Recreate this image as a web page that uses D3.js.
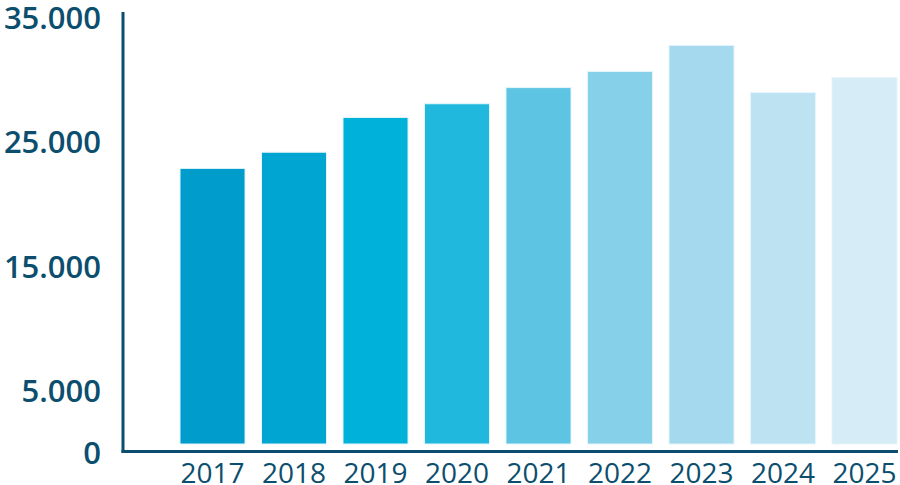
<!DOCTYPE html>
<meta charset="utf-8">
<html>
<head>
<script src="https://d3js.org/d3.v7.min.js"></script>
<style>
  body { margin: 0; background: #fff; }
  text { font-family: "Open Sans", "Noto Sans", sans-serif; fill: #0c4e6e; }
</style>
</head>
<body>
<svg id="chart" width="900" height="485"></svg>
</body>
</html>
<script>

// data
var years = ["2017", "2018", "2019", "2020", "2021", "2022", "2023", "2024", "2025"];
var values = [22900, 24200, 27000, 28100, 29400, 30700, 32800, 29000, 30200];
var barColors = ["#009ccb", "#00a5d1", "#00b1d9", "#20b9dd", "#5ec4e3", "#86d0e9", "#a4d9ee", "#bde3f2", "#d6edf7"];
var yTicks = [0, 5000, 15000, 25000, 35000];

var svg = d3.select("#chart"),
  width = +svg.attr("width"),
  height = +svg.attr("height");

var axisColor = "#0c4e6e";

// scales
var x = d3.scaleBand()
  .domain(years)
  .range([180, 897])
  .paddingInner(0.202)
  .paddingOuter(0);

var y = d3.scaleLinear()
  .domain([0, 35000])
  .range([453, 18]);

var baseGap = 9; // bars stop a little above the axis line

// bars
svg.append("g")
  .selectAll("rect")
  .data(years)
  .enter()
  .append("rect")
    .attr("x", function(d) { return x(d); })
    .attr("width", x.bandwidth())
    .attr("y", function(d, i) { return y(values[i]); })
    .attr("height", function(d, i) { return y(0) - baseGap - y(values[i]); })
    .attr("fill", function(d, i) { return barColors[i]; })
    .attr("stroke", "#e6f5fb")
    .attr("stroke-width", 1);

// y axis line
svg.append("line")
  .attr("x1", 123).attr("x2", 123)
  .attr("y1", 12).attr("y2", 453)
  .attr("stroke", axisColor)
  .attr("stroke-width", 3);

// x axis line
svg.append("line")
  .attr("x1", 121.5).attr("x2", 898)
  .attr("y1", 451.5).attr("y2", 451.5)
  .attr("stroke", axisColor)
  .attr("stroke-width", 3);

// y tick labels
var fmt = function(v) { return v === 0 ? "0" : d3.format(",")(v).replace(/,/g, "."); };
svg.append("g")
  .selectAll("text")
  .data(yTicks)
  .enter()
  .append("text")
    .attr("x", 101)
    .attr("y", function(d) { return y(d); })
    .attr("dy", "0.36em")
    .attr("text-anchor", "end")
    .attr("font-size", 31)
    .attr("font-weight", 600)
    .text(fmt);

// year labels
svg.append("g")
  .selectAll("text")
  .data(years)
  .enter()
  .append("text")
    .attr("x", function(d) { return x(d) + x.bandwidth() / 2; })
    .attr("y", 483)
    .attr("text-anchor", "middle")
    .attr("font-size", 28)
    .text(function(d) { return d; });

</script>
